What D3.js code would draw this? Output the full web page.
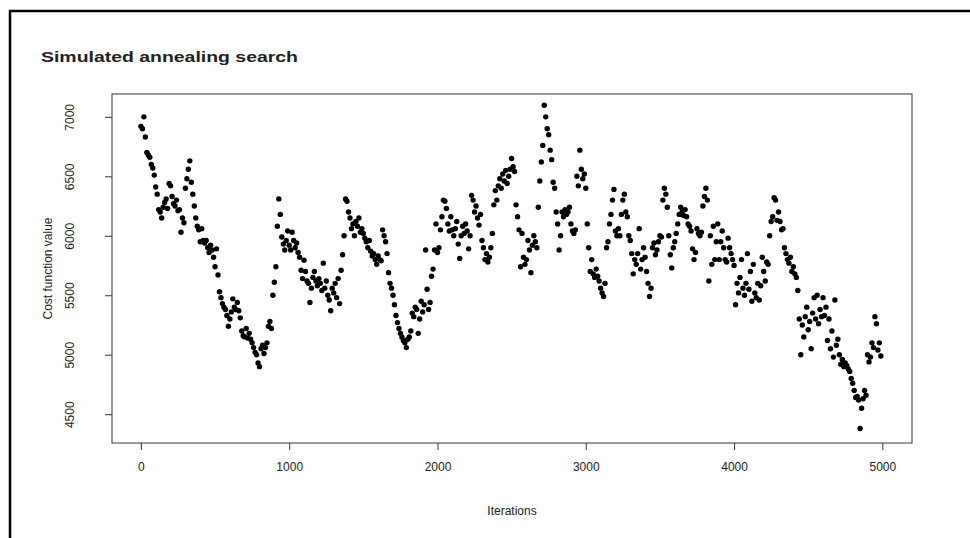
<!DOCTYPE html>
<html>
<head>
<meta charset="utf-8">
<script src="https://cdn.jsdelivr.net/npm/d3@7"></script>
<style>
  body { margin: 0; background: #fff; }
  text { font-family: "Liberation Sans", Arial, sans-serif; fill: #222; }
</style>
</head>
<body>
<svg id="chart" width="970" height="538"></svg>
<script>
// cost value recorded every 10 iterations (one row = 100 iterations)
var iterStep = 10
var costValues = [
    6920, 6900, 7000, 6830, 6700, 6680, 6660, 6600, 6570, 6510,
    6410, 6350, 6220, 6200, 6150, 6240, 6280, 6310, 6230, 6440,
    6420, 6330, 6270, 6250, 6300, 6210, 6220, 6030, 6150, 6110,
    6400, 6480, 6560, 6630, 6450, 6350, 6250, 6150, 6080, 6050,
    5950, 6060, 5960, 5940, 5960, 5900, 5860, 5920, 5880, 5820,
    5740, 5890, 5670, 5530, 5480, 5430, 5400, 5380, 5330, 5240,
    5300, 5360, 5470, 5400, 5380, 5440, 5370, 5310, 5200, 5160,
    5150, 5220, 5140, 5180, 5130, 5100, 5060, 5020, 5000, 4930,
    4900, 5050, 5080, 5010, 5060, 5100, 5240, 5280, 5220, 5500,
    5610, 5740, 6080, 6310, 6180, 5990, 5930, 5880, 5960, 6040,
    5920, 5880, 6030, 5960, 5900, 5940, 5860, 5820, 5710, 5640,
    5795, 5700, 5620, 5600, 5440, 5560, 5650, 5700, 5620, 5580,
    5640, 5600, 5540, 5770, 5560, 5620, 5500, 5460, 5370, 5560,
    5520, 5600, 5480, 5640, 5430, 5710, 5840, 6000, 6310, 6290,
    6200, 6150, 6060, 6100, 6000, 6120, 6080, 6150, 6030, 6060,
    6020, 5980, 5950, 5900, 5960, 5870, 5830, 5850, 5800, 5760,
    5830, 5800, 5790, 6050, 6000, 5950, 5850, 5690, 5600, 5560,
    5500, 5420, 5330, 5270, 5220, 5180, 5150, 5120, 5100, 5060,
    5130, 5150, 5200, 5350, 5320, 5400, 5380, 5180, 5300, 5450,
    5360, 5420, 5880, 5550, 5380, 5440, 5660, 5720, 5880, 6100,
    5860, 5900, 6050, 6160, 6300, 6290, 6230, 6100, 6040, 6160,
    6050, 6000, 6060, 6120, 5930, 5810, 6000, 6080, 6020, 6100,
    6040, 5890, 6000, 6340, 6300, 6200, 6250, 6150, 6090, 6180,
    5960, 5900, 5800, 5850, 5780, 5820, 5900, 6020, 6260, 6380,
    6300, 6420, 6480, 6400, 6520, 6460, 6550, 6440, 6500, 6560,
    6650, 6580, 6540, 6260, 6160, 6050, 5740, 6020, 5820, 5760,
    5800, 5960, 5880, 5690, 5920, 6000, 5950, 5900, 6240, 6460,
    6620, 6760, 7098, 7000, 6900, 6850, 6720, 6640, 6450, 6400,
    6200, 6100, 5880, 6000, 6200, 6160, 6220, 6180, 6200, 6240,
    6100, 6040, 6020, 6050, 6500, 6420, 6720, 6560, 6480, 6520,
    6400, 6100, 5900, 5700, 5800, 5680, 5650, 5720, 5660, 5620,
    5560, 5520, 5490, 5600, 5900, 5950, 6100, 6180, 6300, 6390,
    6040, 6000, 6060, 6000, 6180, 6300, 6350, 6200, 6160, 6000,
    5960, 5850, 5680, 5800, 5760, 5850, 6060, 5720, 5800, 5900,
    5820, 5700, 5600, 5490, 5560, 5900, 5940, 5840, 5880, 5950,
    6000, 5990, 6300, 6400, 6350, 6240, 6000, 5840, 5730, 5900,
    5950, 6020, 6100, 6180, 6240, 6200, 6170, 6220, 6160, 6100,
    6080, 6040, 5890, 5800, 5860, 6060, 6020, 6000, 6030, 6250,
    6330, 6400, 6300, 5620, 6000, 5760, 6080, 5800, 5950, 6100,
    5800, 5950, 6040, 5900, 5800, 5780, 5980, 5900, 5850, 5800,
    5750, 5420, 5600, 5520, 5650, 5800, 5560, 5500, 5600, 5850,
    5550, 5700, 5450, 5760, 5520, 5480, 5600, 5460, 5580, 5820,
    5700, 5620, 5780, 5760, 6000, 6120, 6160, 6320, 6300, 6130,
    6200, 6120, 6050, 6060, 5900, 5850, 5800, 5770, 5820, 5700,
    5740, 5680, 5650, 5540, 5300, 5000, 5250, 5150, 5320, 5400,
    5210, 5280, 5050, 5350, 5480, 5300, 5500, 5260, 5380, 5320,
    5480, 5330, 5400, 5120, 5300, 5050, 5200, 4980, 5460, 5080,
    5130, 5000, 4920, 4960, 4900, 4930, 4910, 4880, 4860, 4800,
    4760, 4700, 4640, 4650, 4620, 4380, 4550, 4630, 4700, 4660,
    5000, 4940, 4980, 5100, 5060, 5320, 5260, 5040, 5100, 4990
]
var xTicks = [0, 1000, 2000, 3000, 4000, 5000]
var yTicks = [4500, 5000, 5500, 6000, 6500, 7000]
var titleText = 'Simulated annealing search'
var xLabel = 'Iterations'
var yLabel = 'Cost function value'

var plotLeft = 112, plotRight = 912, plotTop = 94, plotBottom = 443
var fontStack = '"Liberation Sans", Arial, sans-serif'

var svg = d3.select('#chart')

// outer frame (cut off by the window on right and bottom)
svg.append('rect')
    .attr('x', 10).attr('y', 11)
    .attr('width', 1000).attr('height', 600)
    .style('fill', 'none')
    .style('stroke', '#000')
    .style('stroke-width', 2.5)

var xScale = d3.scaleLinear().domain([-195, 5200]).range([plotLeft, plotRight])
var yScale = d3.scaleLinear().domain([4258, 7192]).range([plotBottom, plotTop])

svg.append('text')
    .attr('x', 41).attr('y', 62)
    .attr('textLength', 257)
    .attr('lengthAdjust', 'spacingAndGlyphs')
    .style('font-size', '15px')
    .style('font-weight', 'bold')
    .text(titleText)

svg.selectAll('.pt')
    .data(costValues)
    .enter()
    .append('circle')
    .attr('class', 'pt')
    .attr('cx', function (d, i) { return xScale(i * iterStep) })
    .attr('cy', function (d) { return yScale(d) })
    .attr('r', 2.7)
    .style('fill', '#000')

// x axis
var xAxis = d3.axisBottom(xScale).tickValues(xTicks).tickSize(7)
    .tickPadding(12).tickFormat(d3.format('d'))
var gx = svg.append('g')
    .attr('transform', 'translate(0,' + plotBottom + ')')
    .call(xAxis)
gx.select('.domain').remove()
gx.selectAll('line').style('stroke', '#333')
gx.selectAll('text').style('font-size', '12px').style('fill', '#222').style('font-family', fontStack)

// y axis, labels turned like R's default
var yAxis = d3.axisLeft(yScale).tickValues(yTicks).tickSize(7)
    .tickPadding(0).tickFormat(d3.format('d'))
var gy = svg.append('g')
    .attr('transform', 'translate(' + plotLeft + ',0)')
    .call(yAxis)
gy.select('.domain').remove()
gy.selectAll('line').style('stroke', '#333')
gy.selectAll('text')
    .attr('x', null).attr('dy', null)
    .attr('text-anchor', 'middle')
    .attr('transform', 'translate(-42,0) rotate(-90)')
    .attr('y', 4)
    .style('font-size', '12px').style('fill', '#222').style('font-family', fontStack)

// plot box
svg.append('rect')
    .attr('x', plotLeft).attr('y', plotTop)
    .attr('width', plotRight - plotLeft).attr('height', plotBottom - plotTop)
    .style('fill', 'none')
    .style('stroke', '#333')
    .style('stroke-width', 1)

svg.append('text')
    .attr('x', (plotLeft + plotRight) / 2).attr('y', 515)
    .attr('text-anchor', 'middle')
    .style('font-size', '12px')
    .text(xLabel)

svg.append('text')
    .attr('transform', 'translate(52,' + ((plotTop + plotBottom) / 2) + ') rotate(-90)')
    .attr('text-anchor', 'middle')
    .style('font-size', '12px')
    .text(yLabel)
</script>
</body>
</html>
